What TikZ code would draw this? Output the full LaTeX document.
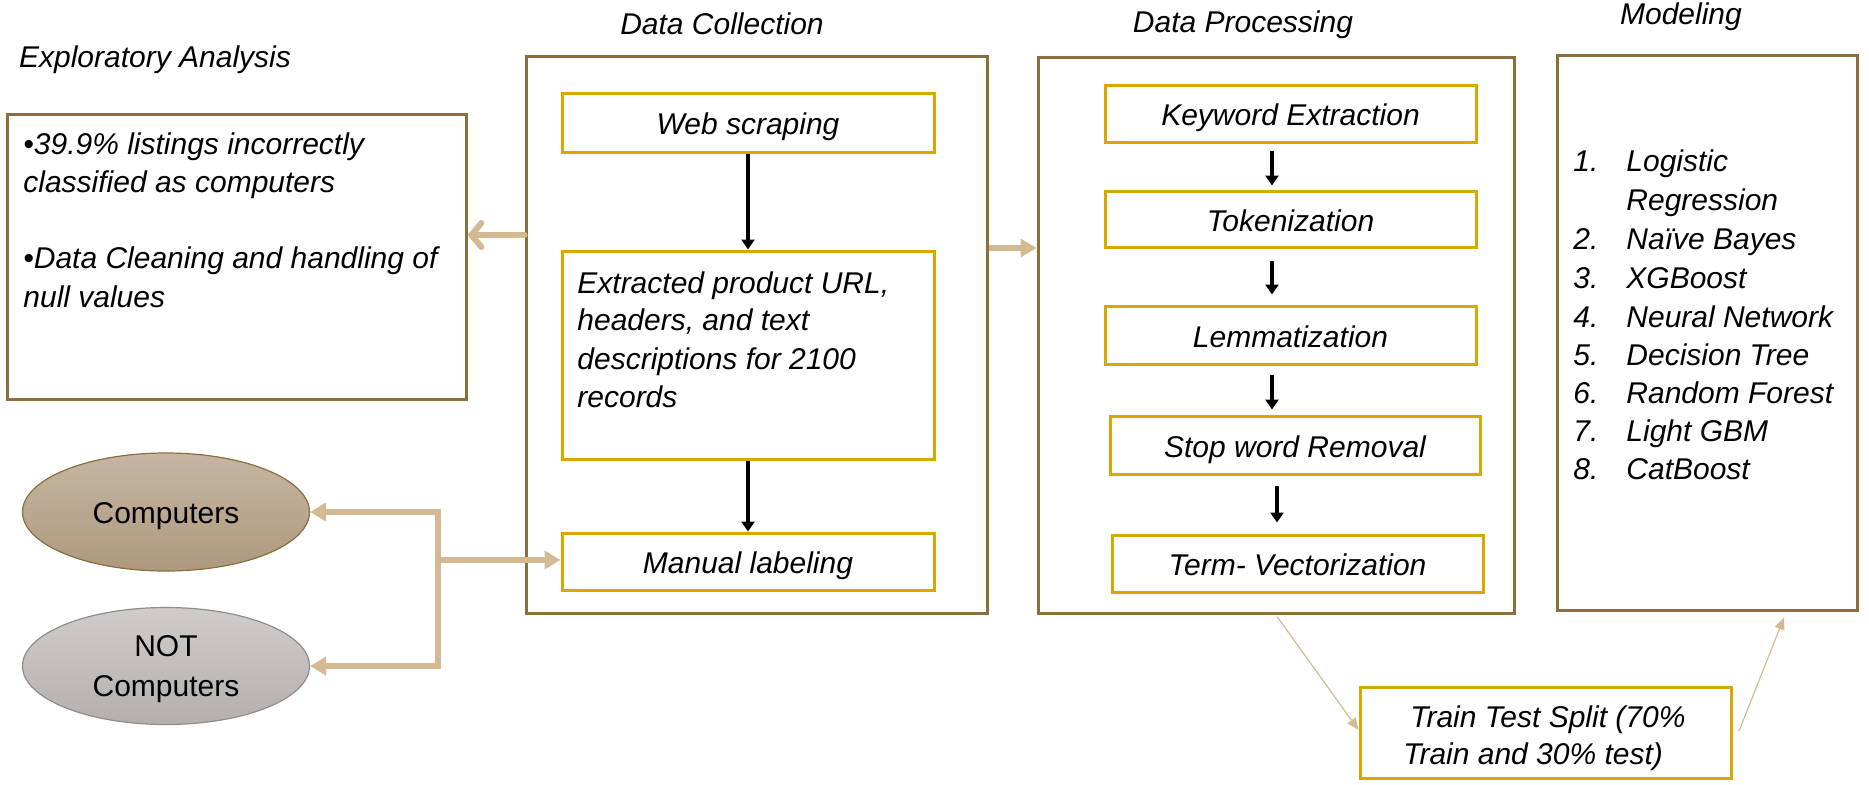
\documentclass[tikz,border=0pt]{standalone}
\usepackage{fontspec}
\setmainfont{Liberation Sans}
\usetikzlibrary{arrows.meta,calc,shapes.geometric}
\definecolor{outerbrown}{HTML}{8C6E3C}
\definecolor{innergold}{HTML}{D9A800}
\definecolor{tanline}{HTML}{D3BA92}
\definecolor{compTop}{HTML}{C6B6A2}
\definecolor{compBot}{HTML}{AD997E}
\definecolor{notTop}{HTML}{D0CCCB}
\definecolor{notBot}{HTML}{B4AFAD}
\begin{document}
\begin{tikzpicture}[x=0.5pt,y=-0.5pt,
  every node/.style={font=\fontsize{15pt}{19pt}\selectfont\itshape, inner sep=0pt},
  outerbox/.style={draw=outerbrown, line width=1.5pt, rectangle},
  innerbox/.style={draw=innergold, line width=1.5pt, rectangle, text height=12pt, text depth=0pt},
  txt/.style={anchor=base west},
  titletxt/.style={anchor=center},
  blk/.style={draw=black, line width=1.6pt, -{Triangle[length=5pt,width=6.5pt]}},
  tanthick/.style={draw=tanline, line width=3pt, -{Triangle[length=8pt,width=9pt]}},
  tanbarb/.style={draw=tanline, line width=3pt, line cap=round, -{Straight Barb[length=5pt,width=12pt,line cap=round]}},
  tanthin/.style={draw=tanline, line width=0.6pt, -{Triangle[length=6pt,width=5pt]}},
  oval/.style={ellipse, line width=0.6pt},
  ovaltxt/.style={font=\fontsize{15pt}{19pt}\selectfont\upshape, align=center, anchor=base}
]
\useasboundingbox (0,0) rectangle (1869,784);

% titles
\node[titletxt] (t1) at (155,60) {Exploratory Analysis};
\node[titletxt] (t2) at (722,24) {Data Collection};
\node[titletxt] (t3) at (1243,25) {Data Processing};
\node[titletxt] (t4) at (1681,17) {Modeling};

% Exploratory box
\node[outerbox, minimum width=229.5pt, minimum height=142.5pt] (expl) at (236.5,256.5) {};
\node[txt] (e1) at (23,154) {•39.9\% listings incorrectly};
\node[txt] (e2) at (23,192) {classified as computers};
\node[txt] (e3) at (23,268) {•Data Cleaning and handling of};
\node[txt] (e4) at (23,307) {null values};

% Data collection
\node[outerbox, minimum width=230.5pt, minimum height=278.5pt] (dc) at (756.5,334.5) {};
\node[innerbox, minimum width=186pt, minimum height=29.5pt] (web) at (748,122.5) {Web scraping};
\node[innerbox, minimum width=186pt, minimum height=104pt] (ext) at (748,355) {};
\node[txt] (x1) at (577,293) {Extracted product URL,};
\node[txt] (x2) at (577,330) {headers, and text};
\node[txt] (x3) at (577,369) {descriptions for 2100};
\node[txt] (x4) at (577,407) {records};
\node[innerbox, minimum width=186pt, minimum height=28.5pt] (man) at (748,561.5) {Manual labeling};
\draw[blk] (web.south) -- (ext.north);
\draw[blk] (ext.south) -- (man.north);

% Data processing
\node[outerbox, minimum width=238pt, minimum height=278pt] (dp) at (1276,335) {};
\node[innerbox, minimum width=185.5pt, minimum height=28.5pt] (kw) at (1290.5,113.5) {Keyword Extraction};
\node[innerbox, minimum width=185.5pt, minimum height=28pt] (tok) at (1290.5,219) {Tokenization};
\node[innerbox, minimum width=185.5pt, minimum height=29pt] (lem) at (1290.5,335) {Lemmatization};
\node[innerbox, minimum width=185pt, minimum height=29pt] (stop) at (1295,445) {Stop word Removal};
\node[innerbox, minimum width=185.5pt, minimum height=28.5pt] (term) at (1297.5,563.5) {Term- Vectorization};
\draw[blk] ([shift={(-18.5,7)}]kw.south) -- ([shift={(-18.5,-4)}]tok.north);
\draw[blk] ([shift={(-18.5,12)}]tok.south) -- ([shift={(-18.5,-10)}]lem.north);
\draw[blk] ([shift={(-18.5,9)}]lem.south) -- ([shift={(-23,-5)}]stop.north);
\draw[blk] ([shift={(-18,10)}]stop.south) -- ([shift={(-20.5,-11)}]term.north);

% Modeling
\node[outerbox, minimum width=150pt, minimum height=277.5pt] (mod) at (1707,332.5) {};
\node[txt] (n1) at (1573,171) {1.};
\node[txt] (m1) at (1626,171) {Logistic};
\node[txt] (m1b) at (1626,210) {Regression};
\node[txt] (n2) at (1573,249) {2.};
\node[txt] (m2) at (1626,249) {Naïve Bayes};
\node[txt] (n3) at (1573,288) {3.};
\node[txt] (m3) at (1626,288) {XGBoost};
\node[txt] (n4) at (1573,327) {4.};
\node[txt] (m4) at (1626,327) {Neural Network};
\node[txt] (n5) at (1573,365) {5.};
\node[txt] (m5) at (1626,365) {Decision Tree};
\node[txt] (n6) at (1573,403) {6.};
\node[txt] (m6) at (1626,403) {Random Forest};
\node[txt] (n7) at (1573,441) {7.};
\node[txt] (m7) at (1626,441) {Light GBM};
\node[txt] (n8) at (1573,479) {8.};
\node[txt] (m8) at (1626,479) {CatBoost};

% Train test split
\node[innerbox, minimum width=185.5pt, minimum height=45.5pt] (train) at (1545.5,732.5) {};
\node[txt] (tr1) at (1410,727) {Train Test Split (70\%};
\node[txt] (tr2) at (1403,764) {Train and 30\% test)};

% ellipses
\node[oval, draw=outerbrown, top color=compTop, bottom color=compBot, minimum width=143.5pt, minimum height=59pt] (comp) at (166,512) {};
\node[ovaltxt] (compt) at (166,523) {Computers};
\node[oval, draw=notBot!80!black, top color=notTop, bottom color=notBot, minimum width=143.5pt, minimum height=58.5pt] (notc) at (166,666) {};
\node[ovaltxt] (nott1) at (166,656) {NOT};
\node[ovaltxt] (nott2) at (166,696) {Computers};

% tan connectors
\draw[tanbarb] ([shift={(0,-99.5)}]dc.west) -- ([shift={(0,-21.5)}]expl.east);
\draw[tanthick] ([shift={(0,-86.5)}]dc.east) -- ([shift={(0,-87)}]dp.west);
\coordinate (jn) at (438,560);
\draw[tanthick] (jn) -- (man.west |- jn);
\draw[tanthick] (jn) |- (comp.east);
\draw[tanthick] (jn) |- (notc.east);

% thin tan arrows
\draw[tanthin] ([shift={(1,2)}]dp.south) -- ([shift={(0,-2.5)}]train.west);
\coordinate (tre) at (1739,731);
\draw[tanthin] (tre) -- ([shift={(77,6)}]mod.south);
\end{tikzpicture}
\end{document}
